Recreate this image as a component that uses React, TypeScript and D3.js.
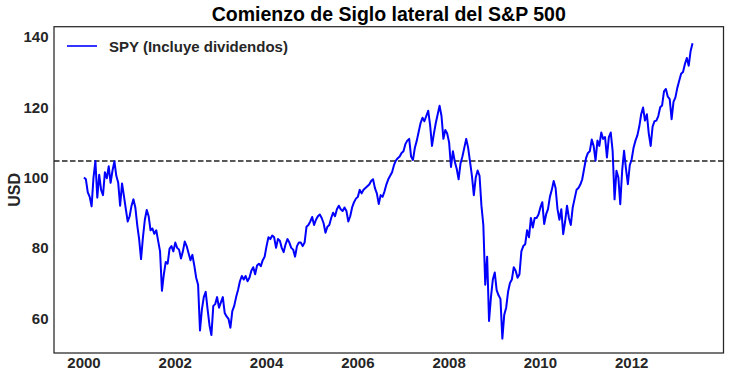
import React from "react";
import * as d3 from "d3";

// Semi-monthly SPY total-return values (normalised, Jan 2000 = 100), 24 per year
const v2000 = [100, 99.5, 95.8, 94.5, 91.8, 100.0, 104.7, 94.3, 100.8, 96.5, 95.0, 101.5, 99.8, 103.2, 98.5, 102.0, 104.6, 100.5, 98.5, 92.0, 98.3, 94.8, 91.0, 87.5];
const v2001 = [89.0, 92.0, 93.8, 91.5, 86.5, 82.5, 76.8, 83.0, 88.0, 90.8, 89.0, 85.0, 85.5, 84.0, 85.0, 82.0, 79.0, 67.8, 72.5, 76.0, 75.5, 79.8, 80.5, 79.0];
const v2002 = [81.5, 80.0, 79.5, 77.0, 79.0, 81.8, 80.5, 78.5, 76.5, 78.0, 75.0, 71.5, 69.5, 56.5, 62.5, 66.0, 67.5, 62.5, 58.0, 55.2, 63.5, 64.0, 66.0, 63.0];
const v2003 = [64.5, 66.0, 61.5, 60.5, 59.8, 57.3, 62.0, 63.5, 66.0, 68.0, 70.5, 72.0, 71.0, 72.0, 70.5, 71.5, 73.5, 74.5, 72.5, 75.0, 75.5, 74.8, 76.5, 77.5];
const v2004 = [80.5, 83.0, 82.5, 83.5, 83.0, 80.0, 82.5, 82.0, 80.0, 78.8, 81.0, 82.5, 81.5, 80.0, 79.5, 77.5, 80.5, 81.5, 81.5, 80.5, 81.5, 86.0, 86.5, 87.5];
const v2005 = [88.8, 86.5, 88.0, 89.0, 89.5, 88.5, 87.0, 84.3, 86.0, 86.5, 88.5, 90.0, 89.0, 91.0, 92.0, 91.0, 90.5, 91.5, 90.5, 87.5, 89.0, 91.5, 93.0, 94.0];
const v2006 = [94.5, 96.5, 95.5, 96.5, 97.0, 97.5, 98.0, 99.0, 99.5, 97.0, 95.5, 92.5, 95.0, 94.5, 96.0, 98.0, 99.5, 100.5, 101.5, 103.5, 104.8, 105.5, 106.0, 107.0];
const v2007 = [107.5, 109.5, 110.5, 111.0, 106.0, 105.0, 108.5, 110.5, 113.0, 115.5, 117.0, 116.0, 117.5, 119.0, 115.0, 109.0, 112.5, 115.5, 118.0, 120.4, 117.5, 111.0, 113.5, 112.5];
const v2008 = [110.0, 103.0, 107.5, 104.5, 102.5, 99.5, 104.0, 106.0, 108.5, 111.0, 108.5, 104.5, 100.5, 95.0, 100.0, 102.0, 100.5, 92.0, 86.5, 69.5, 77.5, 59.2, 66.0, 71.0];
const v2009 = [73.0, 68.0, 66.5, 65.5, 54.2, 61.0, 63.0, 67.5, 70.0, 71.0, 74.5, 73.5, 71.5, 72.5, 79.0, 80.5, 81.0, 85.0, 83.0, 88.5, 85.8, 88.5, 88.5, 89.5];
const v2010 = [91.5, 93.0, 86.8, 89.5, 91.0, 94.5, 96.5, 99.0, 97.0, 91.0, 88.0, 91.0, 83.9, 87.5, 92.0, 88.5, 86.5, 91.5, 94.0, 96.5, 97.0, 98.0, 99.5, 102.5];
const v2011 = [105.5, 107.0, 107.5, 110.8, 109.0, 104.8, 110.5, 109.0, 112.8, 111.0, 111.5, 105.7, 111.5, 112.8, 107.5, 93.8, 101.9, 100.0, 92.4, 102.0, 107.6, 102.5, 98.1, 103.5];
const v2012 = [105.2, 108.5, 110.5, 112.0, 114.5, 118.0, 119.9, 116.2, 118.0, 112.5, 109.0, 114.5, 116.0, 116.2, 117.5, 120.0, 120.5, 124.5, 125.2, 123.0, 122.3, 116.6, 121.5, 122.8];
const v2013 = [125.5, 127.5, 129.5, 130.0, 132.3, 134.0, 131.8, 136.0, 138.2];

const yearSeries = [v2000, v2001, v2002, v2003, v2004, v2005, v2006, v2007, v2008, v2009, v2010, v2011, v2012, v2013];
const firstYear = 2000;
const perYear = 24;

const refLevel = 104.7;
const yTicks = [60, 80, 100, 120, 140];
const xTicks = [2000, 2002, 2004, 2006, 2008, 2010, 2012];
const title = "Comienzo de Siglo lateral del S&P 500";
const legendLabel = "SPY (Incluye dividendos)";
const yLabel = "USD";

export default function App() {
  const W = 730, H = 378;
  const left = 54, right = 723.5, top = 26.7, bottom = 353;
  const x = d3.scaleLinear().domain([1999.343, 2014.012]).range([left, right]);
  const y = d3.scaleLinear().domain([50.1, 142.9]).range([bottom, top]);

  const data = yearSeries.flatMap((arr, k) =>
    arr.map((v, i) => ({ t: firstYear + k + i / perYear, v }))
  );
  const line = d3.line<{ t: number; v: number }>().x(d => x(d.t)).y(d => y(d.v));

  const font = "'Liberation Sans', Arial, Helvetica, sans-serif";
  const textColor = "#262626";

  return (
    <svg width={W} height={H} style={{ position: "absolute", left: 0, top: 0, background: "#fff" }}
      fontFamily={font}>
      <rect x={0} y={0} width={W} height={H} fill="#fff" />
      <text x={(left + right) / 2} y={20.7} textAnchor="middle" fontSize={19.5} fontWeight="bold" fill="#000">
        {title}
      </text>
      <line x1={left} x2={right} y1={y(refLevel)} y2={y(refLevel)} stroke="#222" strokeWidth={1.6}
        strokeDasharray="5.5,2.5" />
      <path d={line(data) || ""} fill="none" stroke="#0000ff" strokeWidth={2} strokeLinejoin="round" />
      <rect x={left} y={top} width={right - left} height={bottom - top} fill="none" stroke={textColor} strokeWidth={1.25} />
      {yTicks.map(t => (
        <text key={t} x={48.5} y={y(t)} dy="0.36em" textAnchor="end" fontSize={15} fontWeight="bold" fill={textColor}>
          {t}
        </text>
      ))}
      {xTicks.map(t => (
        <text key={t} x={x(t)} y={368.3} textAnchor="middle" fontSize={15} fontWeight="bold" fill={textColor}>
          {t}
        </text>
      ))}
      <text transform={`translate(19.5,${(top + bottom) / 2}) rotate(-90)`} textAnchor="middle" fontSize={16}
        fontWeight="bold" fill={textColor}>
        {yLabel}
      </text>
      <line x1={67} x2={97} y1={46} y2={46} stroke="#0000ff" strokeWidth={1.6} />
      <text x={109} y={52.3} fontSize={15} fontWeight="bold" fill={textColor}>
        {legendLabel}
      </text>
    </svg>
  );
}
